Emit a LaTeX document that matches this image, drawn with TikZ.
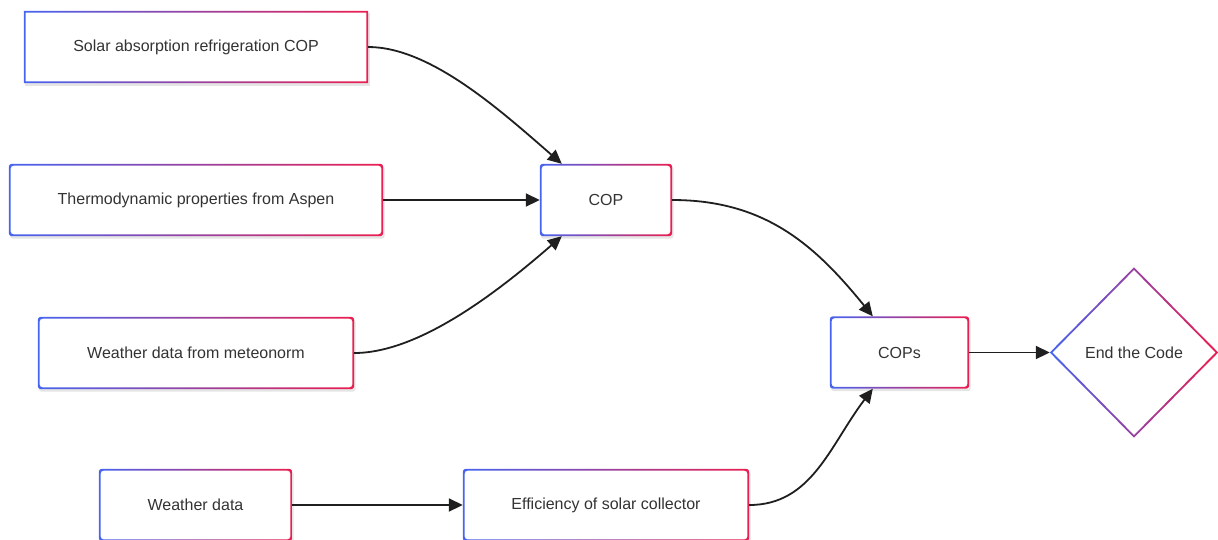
\documentclass[tikz,border=0pt]{standalone}
\usepackage{fontspec}
\setmainfont{Liberation Sans}
\usetikzlibrary{arrows.meta,shapes.geometric,backgrounds}
\definecolor{gblue}{RGB}{70,100,240}
\definecolor{gpink}{RGB}{235,30,80}
\definecolor{txt}{RGB}{51,51,51}
\tikzset{
  box/.style={rectangle, inner sep=0pt, fill=white, text=txt,
    font=\fontsize{16}{19}\selectfont, minimum height=72pt},
  conn/.style={draw=black!88, line width=1.8pt, -{Triangle[length=14pt,width=13pt]}},
}
\newcommand{\gring}[2]{%
  \begin{scope}[on background layer]
    \fill[black, opacity=0.10, rounded corners=#2]
      ([shift={(1pt,-2.5pt)}]#1.north west) rectangle ([shift={(1.5pt,-2.5pt)}]#1.south east);
  \end{scope}
  \shade[left color=gblue, right color=gpink, even odd rule, rounded corners=#2]
    (#1.north west) rectangle (#1.south east)
    ([shift={(1.8pt,-1.8pt)}]#1.north west) rectangle ([shift={(-1.8pt,1.8pt)}]#1.south east);
}
\begin{document}
\begin{tikzpicture}[x=1pt, y=-1pt]
\useasboundingbox (0,0) rectangle (1218,539);

\node[box, minimum width=344pt] (b1) at (196,47) {Solar absorption refrigeration COP};
\node[box, minimum width=374pt] (b2) at (196,200) {Thermodynamic properties from Aspen};
\node[box, minimum width=316pt] (b3) at (196,353) {Weather data from meteonorm};
\node[box, minimum width=193pt] (b4) at (195.5,505) {Weather data};
\node[box, minimum width=132pt] (cop) at (606,200) {COP};
\node[box, minimum width=139pt] (cops) at (899.5,352.5) {COPs};
\node[box, minimum width=286pt] (eff) at (606,505) {Efficiency of solar collector};
\node[shape=diamond, inner sep=0pt, fill=white, text=txt, font=\fontsize{16}{19}\selectfont,
  minimum width=168pt, minimum height=170pt] (endc) at (1134,352.5) {End the Code};

\gring{b1}{0pt}
\gring{b2}{3pt}
\gring{b3}{3pt}
\gring{b4}{3pt}
\gring{cop}{3pt}
\gring{cops}{3pt}
\gring{eff}{3pt}
\shade[left color=gblue, right color=gpink, even odd rule]
  (endc.west) -- (endc.north) -- (endc.east) -- (endc.south) -- cycle
  ([xshift=2.6pt]endc.west) -- ([yshift=-2.6pt]endc.north) -- ([xshift=-2.6pt]endc.east) -- ([yshift=2.6pt]endc.south) -- cycle;

\draw[conn] (b1.east) .. controls (430,47) and (500,110) .. ([xshift=22pt]cop.north west);
\draw[conn] (b2.east) -- (cop.west);
\draw[conn] (b3.east) .. controls (420,353) and (500,290) .. ([xshift=22pt]cop.south west);
\draw[conn] (cop.east) .. controls (765,200) and (815,245) .. ([xshift=43pt]cops.north west);
\draw[conn] (cops.east) -- (endc.west);
\draw[conn] (b4.east) -- (eff.west);
\draw[conn] (eff.east) .. controls (812,505) and (830,445) .. ([xshift=43pt]cops.south west);
\end{tikzpicture}
\end{document}
